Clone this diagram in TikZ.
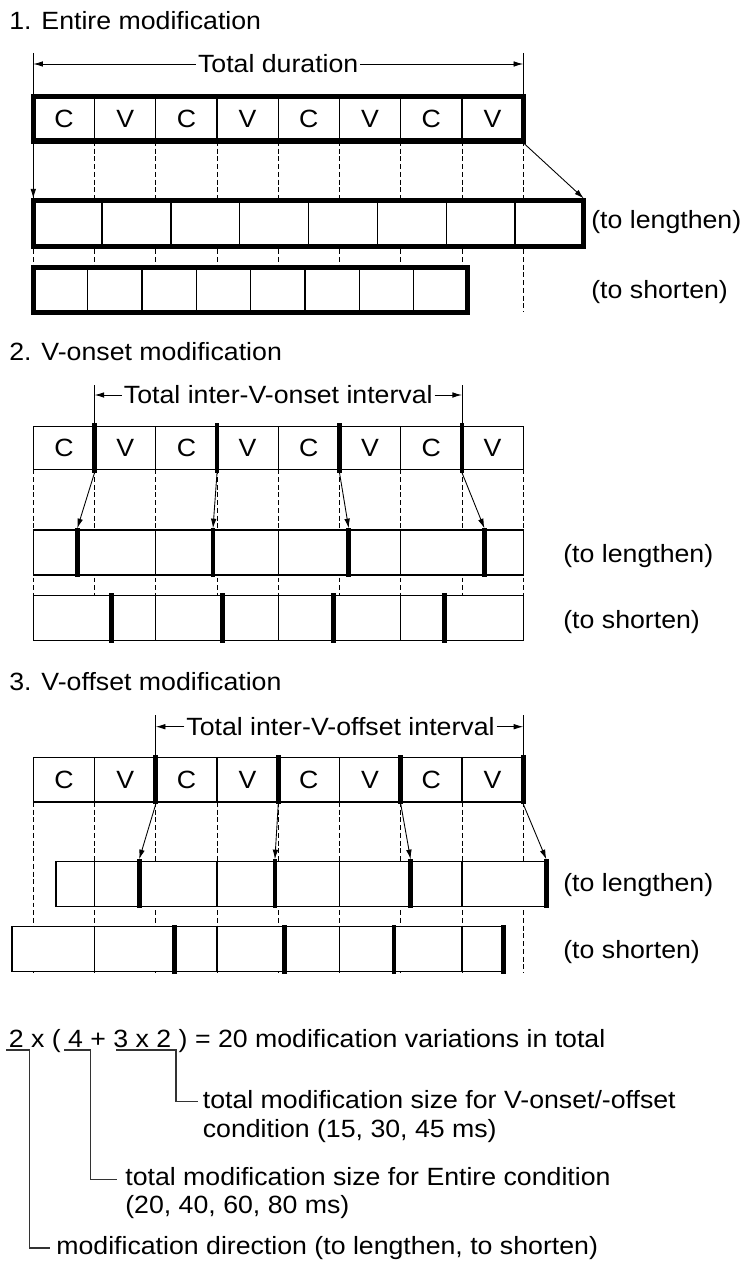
\documentclass[tikz,border=0pt]{standalone}
\usepackage{fontspec}
\setmainfont{Liberation Sans}[FakeStretch=1.07]
\usetikzlibrary{arrows.meta}
\begin{document}
\begin{tikzpicture}[x=0.02cm, y=-0.02cm,
  txt/.style={font=\fontsize{14.2pt}{17pt}\selectfont, inner sep=0pt},
  frame/.style={line width=0.75pt, fill=white},
  heavy/.style={line width=3pt, fill=white},
  cell/.style={line width=0.75pt},
  bar/.style={line width=2.7pt},
  guide/.style={line width=0.5pt, dash pattern=on 2.8pt off 1.6pt},
  ext/.style={line width=0.5pt},
  arr/.style={line width=0.5pt, -{Latex[length=5.5pt, width=3.2pt]}},
  lead/.style={line width=0.6pt, draw=black!80},
]
\useasboundingbox (0,0) rectangle (745,1264);

\node[txt, anchor=base west] (head1) at (9,30) {1. Entire modification};
\foreach \k in {0,...,8} \draw[guide] ({33.3+61.24*\k},141) -- ++(0,171);
\draw[heavy] (33.3,96.2) rectangle (523.2,141);
\foreach \k/\s in {0/C,1/V,2/C,3/V,4/C,5/V,6/C,7/V} \node[txt] (cv1\k) at ({63.92+61.24*\k},118.6) {\s};
\foreach \k in {1,...,7} \draw[cell] ({33.3+61.24*\k},96.2) -- ++(0,44.8);
\draw[heavy] (33.3,200.5) rectangle (583.8,246.5);
\foreach \k in {1,...,7} \draw[cell] ({33.3+68.81*\k},200.5) -- ++(0,46);
\draw[heavy] (33.3,267.8) rectangle (467.8,312.2);
\foreach \k in {1,...,7} \draw[cell] ({33.3+54.31*\k},267.8) -- ++(0,44.4);
\coordinate (o1l) at (33.3,142.7); \coordinate (o1r) at (523.2,142.7);
\coordinate (n1l) at (33.3,198.5); \coordinate (n1r) at (583.8,198.5);
\draw[arr] (o1l) -- (n1l);
\draw[arr] (o1r) -- (n1r);
\draw[ext] (33.3,53) -- (33.3,94); \draw[ext] (523.2,53) -- (523.2,94);
\coordinate (dim1l) at (33.3,64); \coordinate (dim1r) at (523.2,64);
\node[txt, inner sep=1pt] (tot1) at (278.2,64) {Total duration};
\draw[arr] (tot1) -- (dim1l);
\draw[arr] (tot1) -- (dim1r);
\node[txt, anchor=west] (len1) at (591,222.3) {(to lengthen)};
\node[txt, anchor=west] (sho1) at (591,291.7) {(to shorten)};

\node[txt, anchor=base west] (head2) at (9,360) {2. V-onset modification};
\foreach \k in {0,...,8} \draw[guide] ({33.3+61.24*\k},469.3) -- ++(0,126.4);
\draw[frame] (33.3,426.3) rectangle (523.2,469.3);
\foreach \k/\s in {0/C,1/V,2/C,3/V,4/C,5/V,6/C,7/V} \node[txt] (cv2\k) at ({63.92+61.24*\k},447.8) {\s};
\foreach \k in {2,4,6} \draw[cell] ({33.3+61.24*\k},426.3) -- ++(0,43);
\foreach \k in {1,3,5,7} \draw[bar] ({33.3+61.24*\k},423.3) -- ++(0,49.4);
\draw[frame] (33.3,530) rectangle (523.2,575);
\foreach \k in {2,4,6} \draw[cell] ({33.3+61.24*\k},530) -- ++(0,45);
\draw[frame] (33.3,595.7) rectangle (523.2,640.7);
\foreach \k in {2,4,6} \draw[cell] ({33.3+61.24*\k},595.7) -- ++(0,45);
\foreach \a/\b/\c [count=\i] in {94.54/77.3/111.6, 217.02/213/222.5, 339.5/348.7/333.4, 461.98/484.4/444.3} {
  \draw[bar] (\b,528.3) -- (\b,577.3);
  \draw[bar] (\c,593.3) -- (\c,643.3);
  \coordinate (on\i) at (\a,472.7);
  \coordinate (onl\i) at (\b,528.3);
  \draw[arr] (on\i) -- (onl\i);
}
\draw[ext] (94.54,385) -- (94.54,423.3); \draw[ext] (461.98,385) -- (461.98,423.3);
\coordinate (dim2l) at (94.54,395); \coordinate (dim2r) at (461.98,395);
\node[txt, inner sep=1pt] (tot2) at (278.3,395) {Total inter-V-onset interval};
\draw[arr] (tot2) -- (dim2l);
\draw[arr] (tot2) -- (dim2r);
\node[txt, anchor=west] (len2) at (563,555.8) {(to lengthen)};
\node[txt, anchor=west] (sho2) at (563,622.5) {(to shorten)};

\node[txt, anchor=base west] (head3) at (9,690.7) {3. V-offset modification};
\foreach \k in {0,...,8} \draw[guide] ({33.3+61.24*\k},802) -- ++(0,170.5);
\draw[frame] (33.3,757.3) rectangle (523.2,802);
\foreach \k/\s in {0/C,1/V,2/C,3/V,4/C,5/V,6/C,7/V} \node[txt] (cv3\k) at ({63.92+61.24*\k},779.6) {\s};
\foreach \k in {1,3,5,7} \draw[cell] ({33.3+61.24*\k},757.3) -- ++(0,44.7);
\foreach \k in {2,4,6,8} \draw[bar] ({33.3+61.24*\k},755.3) -- ++(0,48.7);
\draw[frame] (56.1,861.7) rectangle (546.3,906.7);
\foreach \k in {1,3,5,7} \draw[cell] ({33.3+61.24*\k},861.7) -- ++(0,45);
\draw[frame] (11.9,926.7) rectangle (503.6,971.7);
\foreach \k in {1,3,5,7} \draw[cell] ({33.3+61.24*\k},926.7) -- ++(0,45);
\foreach \a/\b/\c [count=\i] in {155.78/139.2/174.8, 278.26/274.9/284.4, 400.74/410.6/394, 523.22/546.3/503.6} {
  \draw[bar] (\b,859.3) -- (\b,908.3);
  \draw[bar] (\c,925) -- (\c,974);
  \coordinate (off\i) at (\a,804);
  \coordinate (offl\i) at (\b,859.3);
  \draw[arr] (off\i) -- (offl\i);
}
\draw[ext] (155.78,715) -- (155.78,755.3); \draw[ext] (523.22,715) -- (523.22,755.3);
\coordinate (dim3l) at (155.78,726.7); \coordinate (dim3r) at (523.22,726.7);
\node[txt, inner sep=1pt] (tot3) at (340.5,726.7) {Total inter-V-offset interval};
\draw[arr] (tot3) -- (dim3l);
\draw[arr] (tot3) -- (dim3r);
\node[txt, anchor=west] (len3) at (563,885) {(to lengthen)};
\node[txt, anchor=west] (sho3) at (563,952.5) {(to shorten)};

\node[txt, anchor=base west] (sum) at (8.5,1047) {2 x ( 4 + 3 x 2 ) = 20 modification variations in total};
\node[txt, anchor=base west] (vo1) at (202.5,1108) {total modification size for V-onset/-offset};
\node[txt, anchor=base west] (vo2) at (202.5,1137.5) {condition (15, 30, 45 ms)};
\node[txt, anchor=base west] (en1) at (125,1185.5) {total modification size for Entire condition};
\node[txt, anchor=base west] (en2) at (125,1213.5) {(20, 40, 60, 80 ms)};
\node[txt, anchor=base west] (dir) at (56,1254) {modification direction (to lengthen, to shorten)};
\coordinate (u3) at (116,1050); \coordinate (e3) at (197.7,1101.7);
\coordinate (u2) at (64,1050); \coordinate (e2) at (117,1179.5);
\coordinate (u1) at (6,1050); \coordinate (e1) at (50,1248);
\draw[lead] (u3) -- (176,1050) |- (e3);
\draw[lead] (u2) -- (90.3,1050) |- (e2);
\draw[lead] (u1) -- (29.5,1050) |- (e1);
\end{tikzpicture}
\end{document}
